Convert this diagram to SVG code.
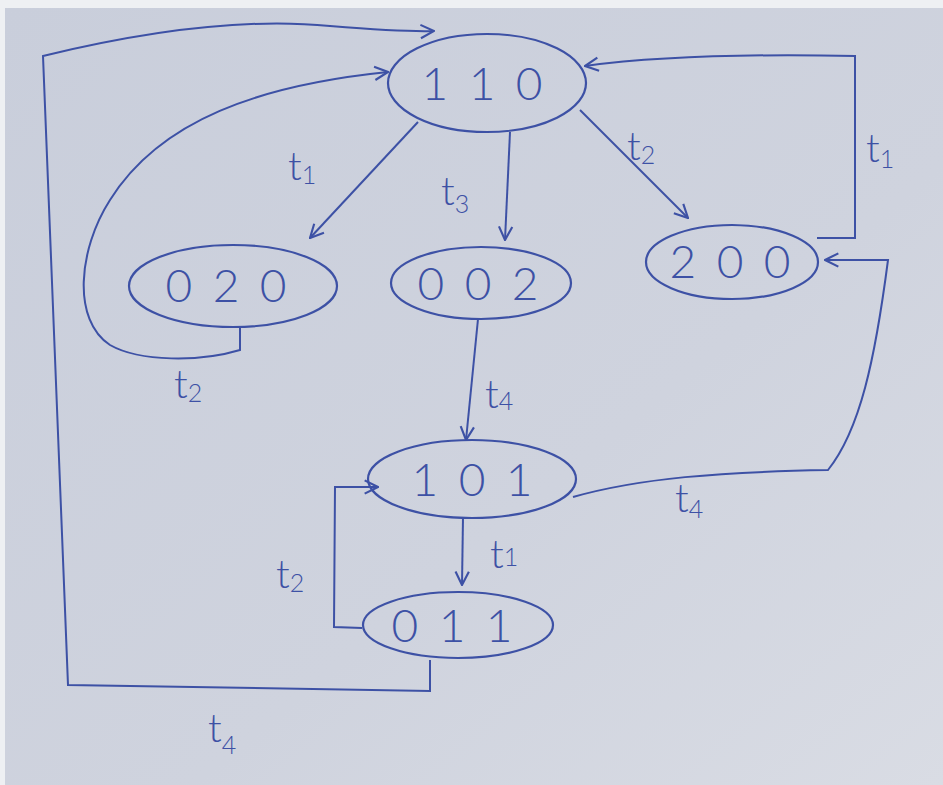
<svg xmlns="http://www.w3.org/2000/svg" width="943" height="785" viewBox="0 0 943 785">
<defs>
<linearGradient id="paper" x1="0" y1="0" x2="1" y2="1">
<stop offset="0" stop-color="#c9cedb"/>
<stop offset="0.6" stop-color="#cfd3de"/>
<stop offset="1" stop-color="#d9dce4"/>
</linearGradient>
<marker id="arr" viewBox="0 0 12 12" refX="11" refY="6" markerWidth="16" markerHeight="16" markerUnits="userSpaceOnUse" orient="auto">
<path d="M1,1 L11,6 L1,11" fill="none" stroke="#3d51a5" stroke-width="1.6"/>
</marker>
<style>
.bg{fill:url(#paper)}
.node{fill:none;stroke:#3d51a5;stroke-width:2.2}
.edge{fill:none;stroke:#3d51a5;stroke-width:2;marker-end:url(#arr)}
.num{font-family:Lato,"Open Sans","Liberation Sans",sans-serif;font-weight:300;font-size:46px;fill:#3d51a5;text-anchor:middle;word-spacing:8px}
.lbl{font-family:Lato,"Open Sans","Liberation Sans",sans-serif;font-weight:300;font-size:40px;fill:#3d51a5}
.sub{font-size:25px}
</style>
</defs>
<rect x="0" y="0" width="943" height="785" fill="#eef0f3"/>
<rect class="bg" x="5" y="8" width="938" height="777"/>

<g id="connectors">
<!-- 110 -> 020 t1 -->
<path class="edge" d="M418,122 L310,238"/>
<!-- 110 -> 002 t3 -->
<path class="edge" d="M510,132 L505,240"/>
<!-- 110 -> 200 t2 -->
<path class="edge" d="M580,110 L688,218"/>
<!-- 200 -> 110 t1 -->
<path class="edge" d="M817,238 L855,238 L855,56 C760,54 660,56 585,66"/>
<!-- 020 -> 110 t2 loop -->
<path class="edge" d="M240,327 L240,350 C200,362 140,362 110,345 C72,320 78,250 110,200 C160,120 260,85 388,72"/>
<!-- 002 -> 101 t4 -->
<path class="edge" d="M478,319 L466,440"/>
<!-- 101 -> 200 t4 -->
<path class="edge" d="M573,497 C640,478 720,472 828,470 C860,430 875,360 888,260 L825,260"/>
<!-- 101 -> 011 t1 -->
<path class="edge" d="M463,517 L462,585"/>
<!-- 011 -> 101 t2 -->
<path class="edge" d="M362,628 L334,627 L335,487 L378,487"/>
<!-- 011 -> 110 t4 -->
<path class="edge" d="M430,660 L430,691 L68,685 L43,56 C150,30 250,18 330,26 C380,30 410,32 434,31"/>
</g>

<g id="n110">
<ellipse class="node" cx="487" cy="83" rx="99" ry="49"/>
<text class="num" x="482" y="100">1 1 0</text>
</g>
<g id="n020">
<ellipse class="node" cx="233" cy="286" rx="104" ry="41"/>
<text class="num" x="226" y="302">0 2 0</text>
</g>
<g id="n002">
<ellipse class="node" cx="481" cy="283" rx="90" ry="36"/>
<text class="num" x="478" y="300">0 0 2</text>
</g>
<g id="n200">
<ellipse class="node" cx="732" cy="262" rx="86" ry="37"/>
<text class="num" x="730" y="278">2 0 0</text>
</g>
<g id="n101">
<ellipse class="node" cx="472" cy="479" rx="104" ry="39"/>
<text class="num" x="472" y="496">1 0 1</text>
</g>
<g id="n011">
<ellipse class="node" cx="458" cy="625" rx="95" ry="33"/>
<text class="num" x="452" y="642">0 1 1</text>
</g>

<g id="labels">
<text class="lbl" x="288" y="180">t<tspan class="sub" dy="4">1</tspan></text>
<text class="lbl" x="441" y="205">t<tspan class="sub" dy="8">3</tspan></text>
<text class="lbl" x="627" y="160">t<tspan class="sub" dy="4">2</tspan></text>
<text class="lbl" x="866" y="162">t<tspan class="sub" dy="6" font-size="32">1</tspan></text>
<text class="lbl" x="174" y="398">t<tspan class="sub" dy="4">2</tspan></text>
<text class="lbl" x="485" y="408">t<tspan class="sub" dy="2">4</tspan></text>
<text class="lbl" x="675" y="512">t<tspan class="sub" dy="6">4</tspan></text>
<text class="lbl" x="490" y="568">t<tspan class="sub" dy="-2">1</tspan></text>
<text class="lbl" x="276" y="588">t<tspan class="sub" dy="4">2</tspan></text>
<text class="lbl" x="208" y="742">t<tspan class="sub" dy="12" font-size="32">4</tspan></text>
</g>
</svg>
